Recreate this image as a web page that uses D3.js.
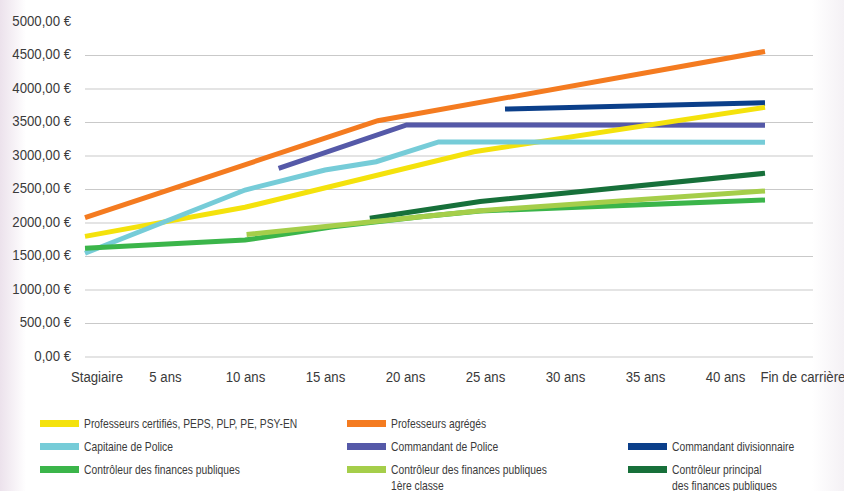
<!DOCTYPE html>
<html><head><meta charset="utf-8">
<script src="https://cdn.jsdelivr.net/npm/d3@7"></script>
<style>
html,body{margin:0;padding:0;background:#fff;}
svg{display:block;}
</style></head>
<body>
<svg id="chart" width="844" height="491"></svg>
<script>
// ---- data ----
const xTickYears = [0, 5, 10, 15, 20, 25, 30, 35, 40, 45];
const xTickLabels = ["Stagiaire", "5 ans", "10 ans", "15 ans", "20 ans", "25 ans", "30 ans", "35 ans", "40 ans", "Fin de carrière"];
const yTicks = [0, 500, 1000, 1500, 2000, 2500, 3000, 3500, 4000, 4500, 5000];

const seriesNames = [
  "Professeurs certifiés, PEPS, PLP, PE, PSY-EN",
  "Professeurs agrégés",
  "Capitaine de Police",
  "Commandant de Police",
  "Commandant divisionnaire",
  "Contrôleur des finances publiques",
  "Contrôleur des finances publiques\n1ère classe",
  "Contrôleur principal\ndes finances publiques"
];
// [year, €]
const certifies = [[0, 1800], [10, 2235], [24.3, 3064], [42.5, 3727]];
const agreges = [[0, 2080], [18.3, 3527], [42.5, 4560]];
const capitaine = [[0, 1548], [10, 2492], [15, 2790], [18.2, 2915], [22.1, 3210], [42.5, 3205]];
const commandant = [[12.1, 2816], [20.1, 3463], [42.5, 3460]];
const divisionnaire = [[26.25, 3701], [42.5, 3796]];
const controleur = [[0, 1622], [10, 1745], [15.5, 1945], [21, 2094], [24.7, 2180], [42.5, 2343]];
const controleur1 = [[10.1, 1830], [24.7, 2184], [42.5, 2478]];
const controleurPrincipal = [[17.8, 2070], [24.7, 2320], [42.5, 2742]];

const seriesColors = ["#f4e20c", "#f47b20", "#76ccd8", "#5559a8", "#0b3f8a", "#3bb54a", "#a5ce4a", "#17703a"];
const seriesData = [certifies, agreges, capitaine, commandant, divisionnaire, controleur, controleur1, controleurPrincipal];
// drawing order (back to front)
const drawOrder = [1, 4, 3, 0, 2, 7, 5, 6];

// ---- layout ----
const svg = d3.select("#chart");
const FONT = "'Liberation Sans', Arial, sans-serif";
const SQUEEZE = "scale(0.88,1)";

const defs = svg.append("defs");
const gl = defs.append("linearGradient").attr("id", "gl").attr("x1", 0).attr("x2", 1);
gl.append("stop").attr("offset", 0).attr("stop-color", "#ece2ec");
gl.append("stop").attr("offset", 1).attr("stop-color", "#ffffff");
const gr = defs.append("linearGradient").attr("id", "gr").attr("x1", 0).attr("x2", 1);
gr.append("stop").attr("offset", 0).attr("stop-color", "#ffffff");
gr.append("stop").attr("offset", 1).attr("stop-color", "#f4f1f5");

svg.append("rect").attr("width", 844).attr("height", 491).attr("fill", "#fff");
svg.append("rect").attr("x", 0).attr("width", 26).attr("height", 491).attr("fill", "url(#gl)");
svg.append("rect").attr("x", 812).attr("width", 32).attr("height", 491).attr("fill", "url(#gr)");

const x = d3.scaleLinear().domain([0, 45]).range([85, 805]);
const y = d3.scaleLinear().domain([0, 5000]).range([357, 22]);
const gridX0 = 85, gridX1 = 813;

// gridlines
svg.append("g").selectAll("line").data(yTicks.filter(v => v < 5000)).join("line")
  .attr("x1", gridX0).attr("x2", gridX1)
  .attr("y1", d => y(d)).attr("y2", d => y(d))
  .attr("stroke", "#c9c9c9").attr("stroke-width", 1.2);

// y axis labels
const fmt = v => d3.format(".2f")(v).replace(".", ",") + " €";
const yAxis = d3.axisLeft(y).tickValues(yTicks).tickFormat(fmt).tickSize(0).tickPadding(0);
const yg = svg.append("g").attr("transform", "translate(71,-1.5)").call(yAxis);
yg.select(".domain").remove();
yg.selectAll("text").attr("font-family", FONT).attr("font-size", 15).attr("fill", "#3a3a3a")
  .attr("x", 0).attr("transform", SQUEEZE);

// x axis labels
const xAxis = d3.axisBottom(x).tickValues(xTickYears)
  .tickFormat((d, i) => xTickLabels[i]).tickSize(0).tickPadding(0);
const xg = svg.append("g").attr("transform", "translate(0,371)").call(xAxis);
xg.select(".domain").remove();
xg.selectAll("text").attr("font-family", FONT).attr("font-size", 15).attr("fill", "#3a3a3a")
  .attr("transform", SQUEEZE)
  .attr("dx", (d, i) => i === 0 ? 13 : (i === xTickYears.length - 1 ? -3 : 0));

// lines
const line = d3.line().x(d => x(d[0])).y(d => y(d[1]));
svg.append("g").selectAll("path").data(drawOrder).join("path")
  .attr("d", i => line(seriesData[i]))
  .attr("fill", "none")
  .attr("stroke", i => seriesColors[i])
  .attr("stroke-width", 5)
  .attr("stroke-linejoin", "miter")
  .attr("stroke-linecap", "butt");

// legend
const legCols = [40, 347, 628];
const legRows = [423.5, 446.5, 469.5];
const lg = svg.append("g");
seriesNames.forEach((name, i) => {
  const col = i < 2 ? i : (i - 2) % 3;
  const row = i < 2 ? 0 : 1 + Math.floor((i - 2) / 3);
  const gx = legCols[col], gy = legRows[row];
  lg.append("rect").attr("x", gx).attr("y", gy - 3.5).attr("width", 39).attr("height", 7)
    .attr("fill", seriesColors[i]);
  const t = lg.append("text")
    .attr("transform", `translate(${gx + 44},${gy}) scale(0.86,1)`)
    .attr("font-family", FONT).attr("font-size", 12).attr("fill", "#3a3a3a")
    .attr("dominant-baseline", "central");
  name.split("\n").forEach((ln, k) => {
    t.append("tspan").attr("x", 0).attr("dy", k === 0 ? 0 : 16).text(ln);
  });
});
</script>
</body></html>
